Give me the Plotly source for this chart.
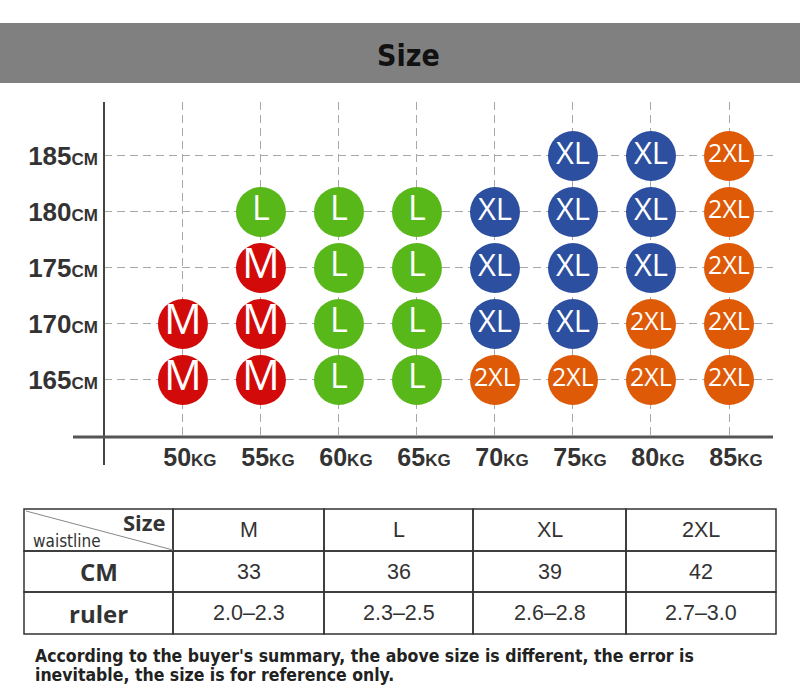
import plotly.graph_objects as go

W, H = 800, 696

# ---------------- data ----------------
weights = [50, 55, 60, 65, 70, 75, 80, 85]
heights = [165, 170, 175, 180, 185]
size_names = ["M", "L", "XL", "2XL"]
size_colors = ["#D20A0A", "#58B81A", "#2C4FA0", "#DE5A06"]
size_fonts = [42, 34, 31, 25]

m_w = [50, 50, 55, 55, 55]
m_h = [165, 170, 165, 170, 175]
l_w = [55, 60, 60, 60, 60, 65, 65, 65, 65]
l_h = [180, 165, 170, 175, 180, 165, 170, 175, 180]
xl_w = [70, 70, 70, 75, 75, 75, 75, 80, 80, 80]
xl_h = [170, 175, 180, 170, 175, 180, 185, 175, 180, 185]
xxl_w = [70, 75, 80, 80, 85, 85, 85, 85, 85]
xxl_h = [165, 165, 165, 170, 165, 170, 175, 180, 185]
series_w = [m_w, l_w, xl_w, xxl_w]
series_h = [m_h, l_h, xl_h, xxl_h]

y_tick_text = ["165", "170", "175", "180", "185"]
x_tick_text = ["50", "55", "60", "65", "70", "75", "80", "85"]

table_header = ["M", "L", "XL", "2XL"]
table_rows_label = ["CM", "ruler"]
waist_cm = ["33", "36", "39", "42"]
ruler = ["2.0–2.3", "2.3–2.5", "2.6–2.8", "2.7–3.0"]

title_text = "Size"
note_lines = ["According to the buyer's summary, the above size is different, the error is",
              "inevitable, the size is for reference only."]

# ---------------- layout constants (pixels) ----------------
table_left, table_top = 24, 509
col_widths = [149, 151, 149, 153, 150]
row_heights = [42, 41, 42]


def px(x):
    return x / W


def py(y):
    return 1 - y / H


fig = go.Figure()

for name, color, fs, xs, ys in zip(size_names, size_colors, size_fonts, series_w, series_h):
    fig.add_trace(go.Scatter(
        x=xs, y=ys, mode="markers+text", name=name,
        text=[name] * len(xs), textposition="middle center",
        textfont=dict(family="Open Sans", size=fs, color="white"),
        marker=dict(size=50, color=color, line=dict(width=0)),
        hoverinfo="skip", showlegend=False,
    ))

shapes = [
    # header bar
    dict(type="rect", xref="paper", yref="paper", x0=0, x1=1, y0=py(83), y1=py(23),
         fillcolor="#808080", line=dict(width=0), layer="below"),
    # axes lines
    dict(type="line", xref="paper", yref="paper", x0=px(104), x1=px(104), y0=py(465), y1=py(102),
         line=dict(color="#444444", width=2)),
    dict(type="line", xref="paper", yref="paper", x0=px(73), x1=px(773), y0=py(437), y1=py(437),
         line=dict(color="#555555", width=3)),
]

annotations = [
    dict(text="<b>" + title_text + "</b>", xref="paper", yref="paper", x=px(408), y=py(55),
         showarrow=False, font=dict(family="DejaVu Sans Condensed", size=30, color="#111111"),
         xanchor="center", yanchor="middle"),
]

# ---------------- table (cells built from the lists) ----------------
table_grid = [[""] + table_header,
              ["<b>" + table_rows_label[0] + "</b>"] + waist_cm,
              ["<b>" + table_rows_label[1] + "</b>"] + ruler]
col_edges = [table_left]
for w in col_widths:
    col_edges.append(col_edges[-1] + w)
row_edges = [table_top]
for h in row_heights:
    row_edges.append(row_edges[-1] + h)

for r, row in enumerate(table_grid):
    for c, val in enumerate(row):
        x0, x1 = col_edges[c], col_edges[c + 1]
        y0, y1 = row_edges[r], row_edges[r + 1]
        shapes.append(dict(type="rect", xref="paper", yref="paper",
                           x0=px(x0), x1=px(x1), y0=py(y1), y1=py(y0),
                           line=dict(color="#333333", width=1.5), fillcolor="rgba(0,0,0,0)"))
        if val:
            if c == 0:
                fnt = dict(family="Open Sans", size=24, color="#333333")
            else:
                fnt = dict(family="Liberation Sans", size=21.5, color="#333333")
            annotations.append(dict(text=val, xref="paper", yref="paper",
                                    x=px((x0 + x1) / 2), y=py((y0 + y1) / 2),
                                    showarrow=False, font=fnt,
                                    xanchor="center", yanchor="middle"))

# corner cell: diagonal + two labels
c0x0, c0x1 = col_edges[0], col_edges[1]
c0y0, c0y1 = row_edges[0], row_edges[1]
shapes.append(dict(type="line", xref="paper", yref="paper",
                   x0=px(c0x0 + 2), x1=px(c0x1), y0=py(c0y0 + 2), y1=py(c0y1 - 1),
                   line=dict(color="#888888", width=1)))
annotations.append(dict(text="<b>Size</b>", xref="paper", yref="paper", x=px(c0x1 - 5), y=py(c0y0 + 13),
                        showarrow=False, font=dict(family="Open Sans", size=22, color="#333333"),
                        xanchor="right", yanchor="middle"))
annotations.append(dict(text="waistline", xref="paper", yref="paper", x=px(c0x0 + 7), y=py(c0y1 - 10),
                        showarrow=False, font=dict(family="DejaVu Sans Condensed", size=17, color="#333333"),
                        xanchor="left", yanchor="middle"))

for i, line in enumerate(note_lines):
    annotations.append(dict(text="<b>" + line + "</b>", xref="paper", yref="paper",
                            x=px(33), y=py(656 + 19 * i), showarrow=False,
                            font=dict(family="DejaVu Sans Condensed", size=17.5, color="#222222"),
                            xanchor="left", yanchor="middle"))

y_ticks = ["<b>" + t + "<span style='font-size:17px'>CM</span></b>" for t in y_tick_text]
x_ticks = ["<b>" + t + "<span style='font-size:17px'>KG</span></b>" for t in x_tick_text]

fig.update_layout(
    width=W, height=H, margin=dict(l=0, r=0, t=0, b=0),
    paper_bgcolor="white", plot_bgcolor="white",
    shapes=shapes, annotations=annotations,
    xaxis=dict(domain=[px(104), px(773)], range=[44.94, 87.82],
               tickvals=weights, ticktext=x_ticks, showgrid=True, griddash="8px,5px",
               gridcolor="#A8A8A8", gridwidth=1.2, zeroline=False, showline=False, ticks="",
               tickfont=dict(family="Liberation Sans", size=25, color="#333333"),
               ticklabelshift=7, ticklabelstandoff=3),
    yaxis=dict(domain=[py(437), py(102)], range=[159.91, 189.82],
               tickvals=heights, ticktext=y_ticks, showgrid=True, griddash="8px,5px",
               gridcolor="#A8A8A8", gridwidth=1.2, zeroline=False, showline=False, ticks="",
               tickfont=dict(family="Liberation Sans", size=26, color="#333333"),
               ticklabelstandoff=5),
)

fig.write_html("out.html")
